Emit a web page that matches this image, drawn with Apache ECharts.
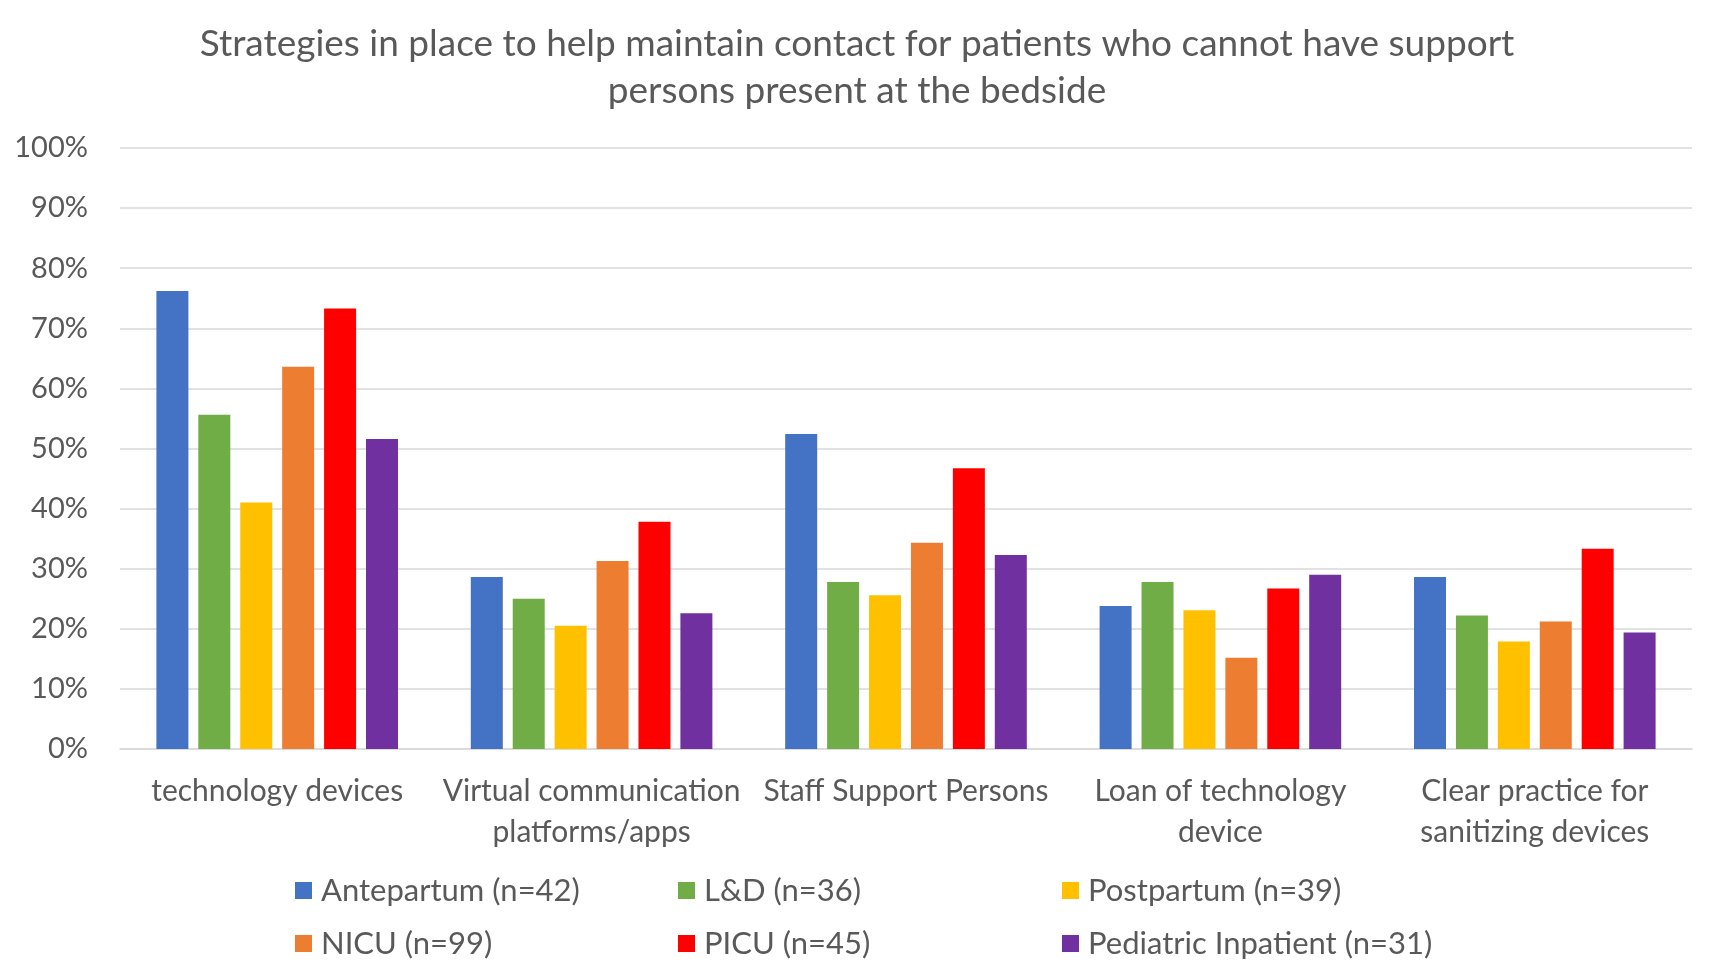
<!DOCTYPE html>
<html>
<head>
<meta charset="utf-8">
<script src="https://cdn.jsdelivr.net/npm/echarts@6/dist/echarts.min.js"></script>
<style>html,body{margin:0;padding:0;background:#fff;}#c{width:1714px;height:979px;}</style>
</head>
<body>
<div id="c"></div>
<script>
const categories = ['technology devices', 'Virtual communication\nplatforms/apps', 'Staff Support Persons', 'Loan of technology\ndevice', 'Clear practice for\nsanitizing devices'];
const seriesNames = ['Antepartum (n=42)', 'L&D (n=36)', 'Postpartum (n=39)', 'NICU (n=99)', 'PICU (n=45)', 'Pediatric Inpatient (n=31)'];
const antepartum = [76.2, 28.6, 52.4, 23.8, 28.6];
const ld = [55.6, 25.0, 27.8, 27.8, 22.2];
const postpartum = [41.0, 20.5, 25.6, 23.1, 17.9];
const nicu = [63.6, 31.3, 34.3, 15.2, 21.2];
const picu = [73.3, 37.8, 46.7, 26.7, 33.3];
const pediatric = [51.6, 22.6, 32.3, 29.0, 19.4];
const colors = ['#4472C4', '#70AD47', '#FFC000', '#ED7D31', '#FF0000', '#7030A0'];
const allData = [antepartum, ld, postpartum, nicu, picu, pediatric];

const font = 'Lato, "Open Sans", sans-serif';
const txt = '#595959';
const legendLeft = [295, 678, 1062];
const legendTop = [875, 928];
const legends = seriesNames.map((n, i) => ({
  data: [n], left: legendLeft[i % 3], top: legendTop[Math.floor(i / 3)],
  itemWidth: 17, itemHeight: 17, itemGap: 0, icon: 'rect', padding: 0,
  textStyle: {fontFamily: font, fontSize: 31, color: txt, padding: [0, 0, 0, 4]}
}));
const chart = echarts.init(document.getElementById('c'));
chart.setOption({
  animation: false,
  color: colors,
  title: {
    text: 'Strategies in place to help maintain contact for patients who cannot have support\npersons present at the bedside',
    left: 'center', top: 16,
    textStyle: {fontFamily: font, fontSize: 37, fontWeight: 'normal', color: txt, lineHeight: 47}
  },
  legend: legends,
  grid: {left: 120, right: 22, top: 148, bottom: 230},
  xAxis: {
    type: 'category', data: categories,
    axisLine: {lineStyle: {color: '#D9D9D9', width: 1.5}},
    axisTick: {show: false},
    axisLabel: {fontFamily: font, fontSize: 30, color: txt, margin: 22, lineHeight: 41, interval: 0}
  },
  yAxis: {
    type: 'value', min: 0, max: 100, interval: 10,
    axisLabel: {formatter: '{value}%', fontFamily: font, fontSize: 29, color: txt, margin: 32},
    axisLine: {show: false}, axisTick: {show: false},
    splitLine: {lineStyle: {color: '#D9D9D9', width: 1.5}}
  },
  series: seriesNames.map((n, i) => ({
    name: n, type: 'bar', data: allData[i], barWidth: 32, barGap: '31%',
    itemStyle: {color: colors[i]}
  }))
});
</script>
</body>
</html>
